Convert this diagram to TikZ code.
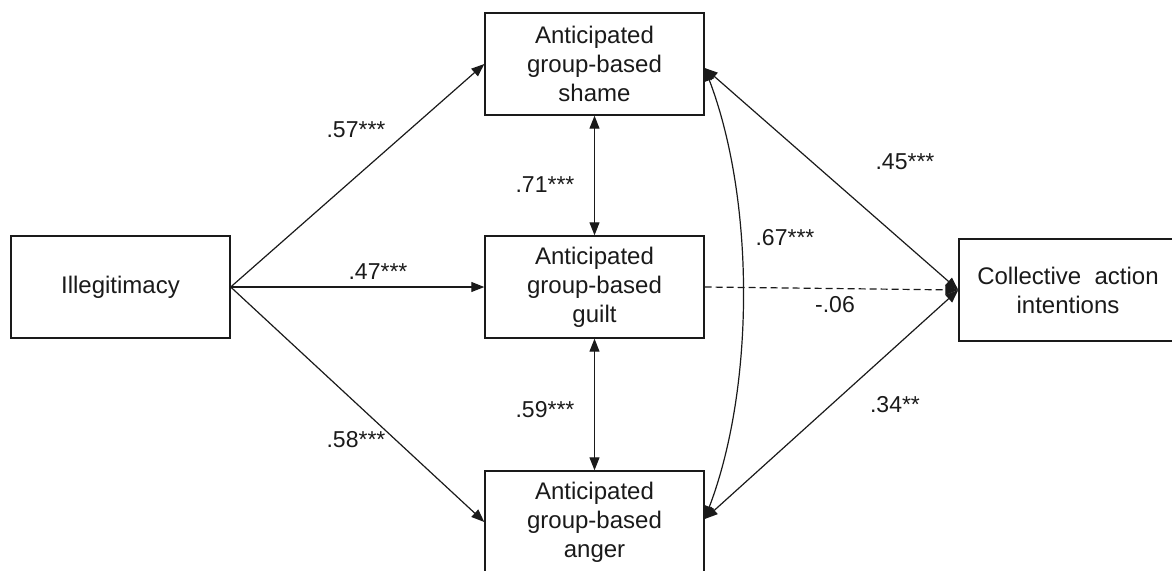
\documentclass[tikz,border=0pt]{standalone}
\usepackage{fontspec}
\setmainfont{Liberation Sans}
\usetikzlibrary{arrows.meta,calc}
\definecolor{ink}{HTML}{1A1A1A}
\tikzset{
  tip/.tip={Triangle[length=13pt,width=10pt]},
  box/.style={draw=ink, line width=1.4pt, minimum width=219pt, minimum height=102pt, inner sep=0pt, align=center, text=ink, font=\fontsize{24}{29}\selectfont},
  conn/.style={draw=ink, line width=1.2pt, -tip},
  dconn/.style={conn, tip-tip},
  coef/.style={text=ink, inner sep=1pt, font=\fontsize{23}{27}\selectfont},
}
\begin{document}
\begin{tikzpicture}[x=1pt,y=-1pt]
\useasboundingbox (0,0) rectangle (1172,570);
\clip (0,0) rectangle (1172,570);
\node[box] (ill) at (120.5,287) {Illegitimacy};
\node[box] (shame) at (594.5,64) {Anticipated\\group-based\\shame};
\node[box] (guilt) at (594.5,287) {Anticipated\\group-based\\guilt};
\node[box] (anger) at (594.5,522) {Anticipated\\group-based\\anger};
\node[box, minimum width=218pt] (cai) at (1068,290) {Collective\ \ action\\intentions};

\draw[conn] (ill.east) -- (shame.west);
\draw[conn] (ill.east) -- (guilt.west);
\draw[conn] (ill.east) -- (anger.west);
\draw[dconn] (shame.south) -- (guilt.north);
\draw[dconn] (guilt.south) -- (anger.north);
\draw[dconn] ($(shame.east)+(0,4)$) .. controls (755,200) and (755,387) .. ($(anger.east)+(0,-3)$);
\draw[dconn] ($(shame.east)+(0,4)$) -- (cai.west);
\draw[dconn] ($(anger.east)+(0,-3)$) -- (cai.west);
\draw[conn, dash pattern=on 7pt off 4pt] (guilt.east) -- (cai.west);

\node[coef] (l57) at (356,130) {.57***};
\node[coef] (l47) at (378,272) {.47***};
\node[coef] (l58) at (356,440) {.58***};
\node[coef] (l71) at (545,185) {.71***};
\node[coef] (l59) at (545,410) {.59***};
\node[coef] (l67) at (785,238) {.67***};
\node[coef] (l45) at (905,162) {.45***};
\node[coef] (l06) at (835,305) {-.06};
\node[coef] (l34) at (895,405) {.34**};
\end{tikzpicture}
\end{document}
